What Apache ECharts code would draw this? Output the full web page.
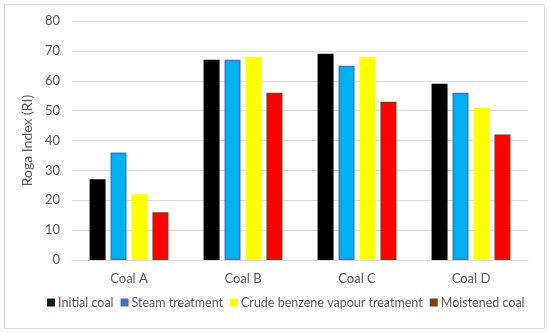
<!DOCTYPE html>
<html><head><meta charset="utf-8">
<script src="https://cdn.jsdelivr.net/npm/echarts@6/dist/echarts.min.js"></script>
<style>html,body{margin:0;padding:0;background:#fff}#c{width:550px;height:334px}</style>
</head><body><div id="c"></div>
<script>
const categories = ['Coal A', 'Coal B', 'Coal C', 'Coal D'];
const seriesNames = ['Initial coal', 'Steam treatment', 'Crude benzene vapour treatment', 'Moistened coal'];
const initialCoal = [27, 67, 69, 59];
const steamTreatment = [36, 67, 65, 56];
const crudeBenzene = [22, 68, 68, 51];
const moistenedCoal = [16, 56, 53, 42];
const yTicks = [0, 10, 20, 30, 40, 50, 60, 70, 80];

const fills = ['#000000', '#00B0F0', '#FFFF00', '#FF0000'];
const borders = ['#000000', '#4472C4', '#FFFF00', '#843C0C'];
const legendColors = ['#0b1f0b', '#4472C4', '#FFFF00', '#843C0C'];
const values = [initialCoal, steamTreatment, crudeBenzene, moistenedCoal];
const font = 'Lato';

const chart = echarts.init(document.getElementById('c'));
chart.setOption({
  animation: false,
  textStyle: { fontFamily: font },
  graphic: [{ type: 'rect', shape: { x: 4.5, y: 4.5, width: 540, height: 324 }, style: { fill: 'none', stroke: '#d9d9d9', lineWidth: 1 }, silent: true }],
  grid: { left: 72, right: 22, top: 21, bottom: 74 },
  legend: {
    bottom: 20, left: 42,
    itemWidth: 8, itemHeight: 8, itemGap: 7,
    icon: 'rect',
    textStyle: { fontSize: 12.5, color: '#595959', fontFamily: font, padding: [0, 0, 0, -2] },
    data: seriesNames.map((n, i) => ({ name: n, itemStyle: { color: legendColors[i], borderWidth: 0 } }))
  },
  xAxis: {
    type: 'category', data: categories,
    axisLine: { lineStyle: { color: '#d9d9d9' } },
    axisTick: { show: false },
    axisLabel: { color: '#595959', fontSize: 13, margin: 12, fontFamily: font }
  },
  yAxis: {
    type: 'value', min: yTicks[0], max: yTicks[yTicks.length - 1], interval: 10,
    name: 'Roga Index (RI)', nameLocation: 'middle', nameGap: 31, nameRotate: 90,
    nameTextStyle: { color: '#595959', fontSize: 14, fontFamily: font },
    axisLine: { show: false }, axisTick: { show: false },
    splitLine: { lineStyle: { color: '#d9d9d9' } },
    axisLabel: { color: '#595959', fontSize: 13, margin: 12, fontFamily: font }
  },
  series: seriesNames.map((n, i) => ({
    name: n, type: 'bar', data: values[i],
    barWidth: 16, barGap: '31%',
    itemStyle: { color: fills[i], borderColor: borders[i], borderWidth: 1.5 }
  }))
});
</script></body></html>
